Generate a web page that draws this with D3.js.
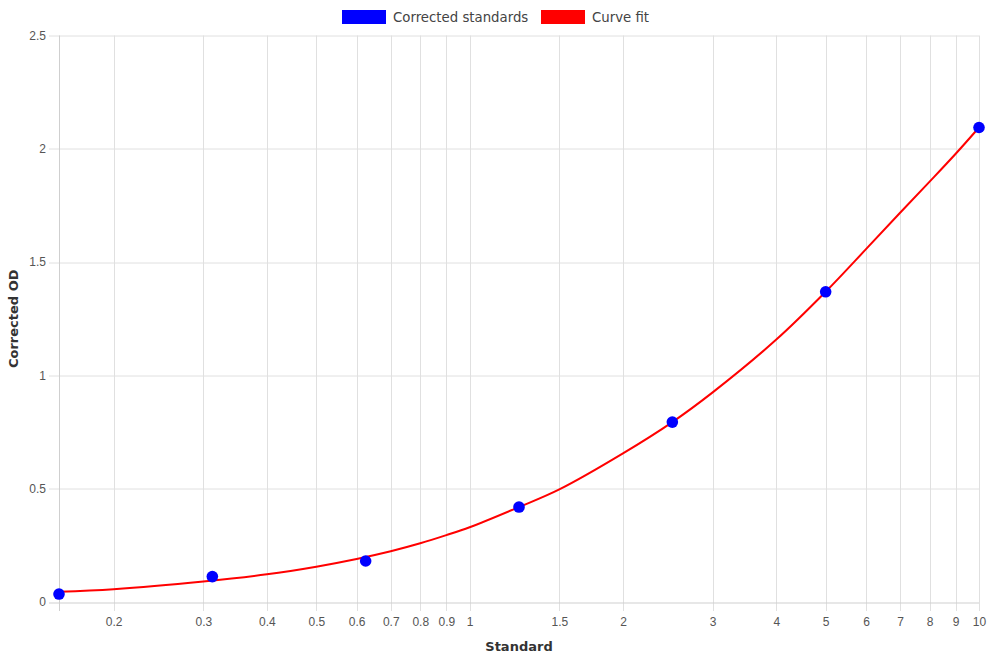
<!DOCTYPE html>
<html>
<head>
<meta charset="utf-8">
<script src="https://cdn.jsdelivr.net/npm/d3@7"></script>
<style>
  body { margin: 0; background: #fff; }
  svg { display: block; }
  .tick text { font-family: "Liberation Sans", Arial, sans-serif; font-size: 12px; fill: #555; }
  .title { font-family: "DejaVu Sans", sans-serif; font-weight: bold; font-size: 13px; fill: #333; }
  .legend text { font-family: "DejaVu Sans", sans-serif; font-size: 13.3px; fill: #444; }
</style>
</head>
<body>
<svg width="990" height="660"></svg>
<script>
// measured standards
var stdX = [0.15625, 0.3125, 0.625, 1.25, 2.5, 5, 10];
var stdOD = [0.035, 0.112, 0.181, 0.419, 0.794, 1.369, 2.094];

// curve fit
var fitX = [0.15625, 0.2, 0.3, 0.4, 0.5, 0.6, 0.7, 0.8, 0.9, 1, 1.25, 1.5, 2, 2.5, 3, 4, 5, 6, 7, 8, 9, 10];
var fitOD = [0.045, 0.056, 0.090, 0.122, 0.156, 0.190, 0.224, 0.259, 0.295, 0.330, 0.419, 0.497, 0.656, 0.794, 0.925, 1.158, 1.369, 1.557, 1.718, 1.855, 1.978, 2.094];

var xTicks = [0.2, 0.3, 0.4, 0.5, 0.6, 0.7, 0.8, 0.9, 1, 1.5, 2, 3, 4, 5, 6, 7, 8, 9, 10];
var yTicks = [0, 0.5, 1, 1.5, 2, 2.5];

var svg = d3.select("svg"),
    margin = {top: 35.5, right: 11, bottom: 58, left: 59},
    width = 990 - margin.left - margin.right,
    height = 660 - margin.top - margin.bottom,
    g = svg.append("g").attr("transform", "translate(" + margin.left + "," + margin.top + ")");

var x = d3.scaleLog().domain([0.15625, 10]).range([0, width]),
    y = d3.scaleLinear().domain([0, 2.5]).range([height, 0]);

// grid
g.append("g").selectAll("line")
  .data(xTicks)
  .enter().append("line")
    .attr("x1", function(d) { return Math.round(x(d)) + 0.5; })
    .attr("x2", function(d) { return Math.round(x(d)) + 0.5; })
    .attr("y1", 0).attr("y2", height + 9)
    .attr("stroke", "#e0e0e0");

g.append("g").selectAll("line")
  .data(yTicks)
  .enter().append("line")
    .attr("x1", -10).attr("x2", width)
    .attr("y1", function(d) { return Math.round(y(d)) + 0.5; })
    .attr("y2", function(d) { return Math.round(y(d)) + 0.5; })
    .attr("stroke", function(d) { return d === 0 ? "#cfcfcf" : "#e0e0e0"; });

g.append("line")
    .attr("x1", 0.5).attr("x2", 0.5)
    .attr("y1", 0).attr("y2", height + 9)
    .attr("stroke", "#cfcfcf");

// axes (labels only)
var xAxis = g.append("g")
    .attr("transform", "translate(0," + height + ")")
    .call(d3.axisBottom(x).tickValues(xTicks).tickFormat(d3.format("~g")).tickSize(0).tickPadding(15));
xAxis.select(".domain").remove();

var yAxis = g.append("g")
    .call(d3.axisLeft(y).tickValues(yTicks).tickFormat(d3.format("~g")).tickSize(0).tickPadding(13));
yAxis.select(".domain").remove();

// titles
svg.append("text")
    .attr("class", "title")
    .attr("x", margin.left + width / 2)
    .attr("y", 651)
    .attr("text-anchor", "middle")
    .text("Standard");

svg.append("text")
    .attr("class", "title")
    .attr("transform", "translate(18," + (margin.top + height / 2) + ") rotate(-90)")
    .attr("text-anchor", "middle")
    .text("Corrected OD");

// curve fit
var line = d3.line()
    .curve(d3.curveCatmullRom.alpha(0.5))
    .x(function(d) { return x(d[0]); })
    .y(function(d) { return y(d[1]); });

g.append("path")
    .datum(d3.zip(fitX, fitOD))
    .attr("fill", "none")
    .attr("stroke", "#ff0000")
    .attr("stroke-width", 2)
    .attr("d", line);

// points
g.append("g").selectAll("circle")
  .data(d3.zip(stdX, stdOD))
  .enter().append("circle")
    .attr("cx", function(d) { return x(d[0]); })
    .attr("cy", function(d) { return y(d[1]); })
    .attr("r", 5.8)
    .attr("fill", "#0000ff");

// legend
var legendItems = [
  {label: "Corrected standards", color: "#0000ff", x: 342},
  {label: "Curve fit", color: "#ff0000", x: 541}
];
var legend = svg.append("g").attr("class", "legend")
  .selectAll("g")
  .data(legendItems)
  .enter().append("g")
    .attr("transform", function(d) { return "translate(" + d.x + ",10)"; });

legend.append("rect")
    .attr("width", 44).attr("height", 14)
    .attr("fill", function(d) { return d.color; });

legend.append("text")
    .attr("x", 51).attr("y", 11.5)
    .text(function(d) { return d.label; });
</script>
</body>
</html>
